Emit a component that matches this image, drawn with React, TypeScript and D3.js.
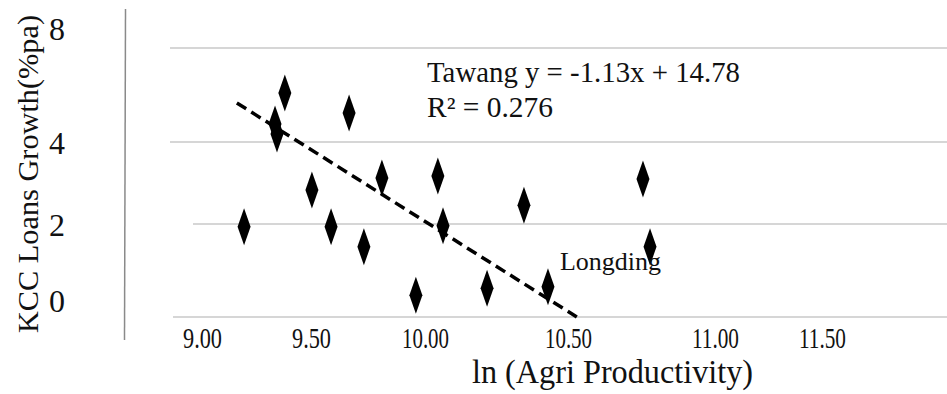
import React, { useEffect, useRef } from "react";
import * as d3 from "d3";

// axis ticks
const xTicks = [9.0, 9.5, 10.0, 10.5, 11.0, 11.5];
const yTicks = [0, 2, 4, 8];

// districts: ln(agri productivity) vs KCC loan growth
const districtX = [9.38, 9.335, 9.344, 9.667, 9.504, 9.811, 9.193, 9.588, 9.732, 9.96, 10.045, 10.063, 10.346, 10.217, 10.43, 10.755, 10.779];
const districtY = [6.09, 4.77, 4.34, 5.23, 2.83, 3.12, 1.94, 1.94, 1.51, 0.47, 3.17, 1.96, 2.46, 0.62, 0.65, 3.1, 1.51];

// fitted line end points
const trendX = [9.16, 10.53];
const trendY = [5.66, 0];

const equationText = "Tawang y = -1.13x + 14.78";
const r2Text = "R² = 0.276";
const pointLabel = "Longding";

const WIDTH = 947;
const HEIGHT = 394;
// the picture's tick spacing is uneven, so the scales are piecewise
const xRange = [202, 311, 425, 568, 715, 822];
const yRange = [317, 224, 142, 48];
const yLabelRange = [301, 225, 143, 29];
const gridLeft = [173, 193, 170, 170];

const FONT = "'Liberation Serif', 'Times New Roman', serif";

const App: React.FC = () => {
  const svgRef = useRef<SVGSVGElement>(null);

  useEffect(() => {
    if (!svgRef.current) return;
    const svg = d3.select(svgRef.current);
    svg.selectAll("*").remove();

    const xScale = d3.scaleLinear().domain(xTicks).range(xRange);
    const yScale = d3.scaleLinear().domain(yTicks).range(yRange);
    const yLabelScale = d3.scaleLinear().domain(yTicks).range(yLabelRange);

    // vertical axis rule
    svg.append("line")
      .attr("x1", 125.5).attr("x2", 124.5)
      .attr("y1", 9).attr("y2", 340)
      .attr("stroke", "#8a8a8a")
      .attr("stroke-width", 1.5);

    // gridlines
    svg.append("g")
      .selectAll("line")
      .data(yTicks)
      .join("line")
      .attr("x1", (d, i) => gridLeft[i])
      .attr("x2", WIDTH)
      .attr("y1", d => yScale(d))
      .attr("y2", d => yScale(d))
      .attr("stroke", "#c9c9c9")
      .attr("stroke-width", 1.5);

    // y tick labels
    svg.append("g")
      .selectAll("text")
      .data(yTicks)
      .join("text")
      .attr("x", 57)
      .attr("y", d => yLabelScale(d))
      .attr("dy", "0.35em")
      .attr("text-anchor", "middle")
      .style("font-family", FONT)
      .style("font-size", "32px")
      .attr("fill", "#111")
      .text(d => String(d));

    // x axis labels
    const xAxis = svg.append("g")
      .attr("transform", `translate(0,${yScale(0)})`)
      .call(d3.axisBottom(xScale)
        .tickValues(xTicks)
        .tickFormat(d3.format(".2f") as any)
        .tickSize(0)
        .tickPadding(10));
    xAxis.select(".domain").remove();
    xAxis.selectAll("text")
      .style("font-family", FONT)
      .style("font-size", "29px")
      .attr("fill", "#111")
      .attr("textLength", (d: any) => (d >= 10 ? 47 : 39))
      .attr("lengthAdjust", "spacingAndGlyphs");

    // trend line
    const trend = trendX.map((x, i) => [x, trendY[i]] as [number, number]);
    svg.append("path")
      .datum(trend)
      .attr("fill", "none")
      .attr("stroke", "#000")
      .attr("stroke-width", 3.5)
      .attr("stroke-dasharray", "11,6")
      .attr("d", d3.line<[number, number]>()
        .x(d => xScale(d[0]))
        .y(d => yScale(d[1])));

    // diamond markers
    const pts = districtX.map((x, i) => ({ x, y: districtY[i] }));
    svg.append("g")
      .selectAll("path")
      .data(pts)
      .join("path")
      .attr("transform", d => `translate(${xScale(d.x)},${yScale(d.y)})`)
      .attr("d", "M0,-18.5L6.5,0L0,18.5L-6.5,0Z")
      .attr("fill", "#000");

    // annotations
    const note = svg.append("g")
      .style("font-family", FONT)
      .attr("fill", "#111");
    note.append("text")
      .attr("x", 427).attr("y", 82)
      .style("font-size", "29px")
      .attr("textLength", 313)
      .attr("lengthAdjust", "spacingAndGlyphs")
      .text(equationText);
    note.append("text")
      .attr("x", 427).attr("y", 117)
      .style("font-size", "29px")
      .attr("textLength", 126)
      .attr("lengthAdjust", "spacingAndGlyphs")
      .text(r2Text);
    note.append("text")
      .attr("x", 560).attr("y", 270)
      .style("font-size", "25px")
      .attr("textLength", 101)
      .attr("lengthAdjust", "spacingAndGlyphs")
      .text(pointLabel);

    // axis titles
    svg.append("text")
      .attr("x", 472).attr("y", 383)
      .style("font-family", FONT)
      .style("font-size", "33px")
      .attr("fill", "#111")
      .attr("textLength", 281)
      .attr("lengthAdjust", "spacingAndGlyphs")
      .text("ln (Agri Productivity)");

    svg.append("text")
      .attr("transform", "translate(38,333) rotate(-90)")
      .style("font-family", FONT)
      .style("font-size", "30px")
      .attr("fill", "#111")
      .attr("textLength", 318)
      .attr("lengthAdjust", "spacingAndGlyphs")
      .text("KCC Loans Growth(%pa)");
  }, []);

  return (
    <svg
      ref={svgRef}
      width={WIDTH}
      height={HEIGHT}
      style={{ position: "absolute", left: 0, top: 0, background: "#fff", display: "block" }}
    />
  );
};

export default App;
